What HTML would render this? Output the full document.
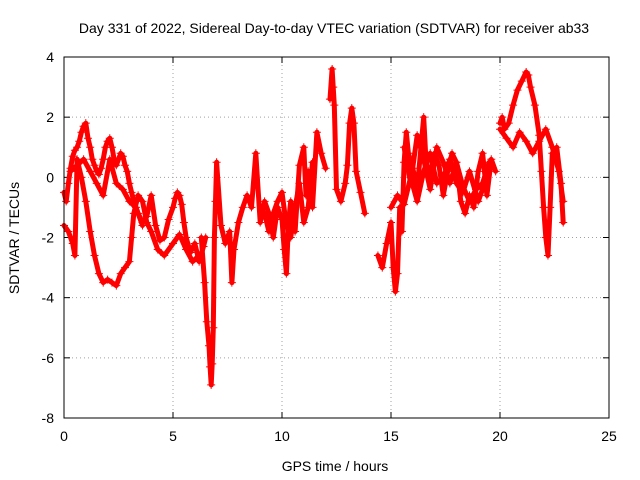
<!DOCTYPE html>
<html><head><meta charset="utf-8">
<style>
html,body{margin:0;padding:0;background:#fff;}
svg{display:block;font-family:"Liberation Sans",sans-serif;}
</style></head>
<body>
<svg id="chart" width="640" height="480" viewBox="0 0 640 480" xmlns="http://www.w3.org/2000/svg">
<text x="334" y="33" font-size="14" text-anchor="middle">Day 331 of 2022, Sidereal Day-to-day VTEC variation (SDTVAR) for receiver ab33</text>
<text transform="translate(19,238) rotate(-90)" font-size="14" text-anchor="middle">SDTVAR / TECUs</text>
<text x="335" y="471" font-size="14" text-anchor="middle">GPS time / hours</text>
<g id="grid"></g>
<g id="marks"></g>
<rect x="64" y="57" width="545" height="361" fill="none" stroke="#000" stroke-width="1"/>
</svg>
<script>
const xTicks = [0,5,10,15,20,25];
const yTicks = [-8,-6,-4,-2,0,2,4];
const seg1T = [0,0.1,0.2,0.3,0.4,0.5,0.6,0.7,0.8,0.9,1.0,1.1,1.2,1.3,1.4,1.5,1.6,1.7,1.8,1.9,2.0,2.1,2.2,2.3,2.4,2.5,2.6,2.7,2.8,2.9,3.0,3.1,3.2,3.4,3.6,3.8,4.0,4.2,4.4,4.6,4.8,5.0,5.1,5.2,5.3,5.4,5.5,5.6,5.8,6.0,6.2,6.4,6.5];
const seg1V = [-0.5,-0.8,-0.2,0.3,0.7,0.9,1.0,1.2,1.5,1.7,1.8,1.3,1.0,0.6,0.4,0.2,0.1,0.3,0.6,1.0,1.2,1.3,1.0,0.6,0.4,0.6,0.8,0.7,0.4,0.2,-0.2,-0.5,-0.8,-1.2,-1.5,-1.3,-0.6,-1.6,-2.1,-2.0,-1.4,-1.0,-0.7,-0.5,-0.6,-0.9,-1.5,-2.0,-2.5,-2.2,-2.8,-2.3,-2.0];
const seg2T = [0,0.2,0.4,0.5,0.6,0.8,1.0,1.2,1.4,1.6,1.8,2.0,2.2,2.4,2.6,2.8,3.0,3.1,3.2,3.4,3.6,3.8,4.0,4.3,4.6,5.0,5.3,5.6,5.9,6.2];
const seg2V = [-1.6,-1.8,-2.2,-2.6,0.6,0.0,-0.8,-1.8,-2.6,-3.2,-3.5,-3.4,-3.5,-3.6,-3.2,-3.0,-2.8,-2.0,-1.2,-0.6,-0.8,-1.5,-1.8,-2.4,-2.6,-2.2,-1.9,-2.4,-2.8,-2.6];
const seg3T = [6.3,6.45,6.55,6.65,6.7,6.75,6.8,6.85,6.9,6.95,7.0,7.2,7.4,7.6,7.7,7.8,8.0,8.2,8.4,8.6,8.8,9.0,9.2,9.4,9.6,9.8,10.0,10.1,10.2,10.3,10.4,10.6,10.8,11.0,11.1,11.2,11.4,11.6,11.8,12.0];
const seg3V = [-2.0,-3.5,-4.8,-5.6,-6.3,-6.9,-6.2,-5.0,-2.0,-0.8,0.5,-1.6,-2.2,-1.8,-3.5,-2.4,-1.5,-1.0,-0.6,-1.0,0.8,-1.5,-0.8,-1.2,-2.0,-1.0,-1.4,-2.4,-3.2,-1.5,-0.8,-1.8,0.4,1.0,-0.6,0.2,-1.0,1.5,0.8,0.3];
const seg4T = [9.2,9.4,9.6,9.8,10.0,10.2,10.4,10.6,10.8,11.0,11.2,11.4];
const seg4V = [-1.2,-1.8,-1.2,-0.8,-0.5,-1.6,-2.0,-1.0,-0.2,-1.5,-1.0,0.5];
const seg5T = [12.2,12.3,12.35,12.4,12.5,12.7,12.9,13.0,13.1,13.2,13.3,13.4,13.6,13.8];
const seg5V = [2.6,3.6,3.0,2.4,-0.4,-0.8,-0.2,0.4,1.8,2.3,1.8,0.2,-0.5,-1.2];
const seg6T = [14.4,14.6,14.8,15.0,15.1,15.2,15.3,15.4,15.5,15.6,15.7,15.8,16.0,16.2,16.4,16.5,16.6,16.8,17.0,17.2,17.4,17.6,17.8,18.0,18.2,18.4,18.6,18.8,19.0,19.2,19.4,19.6,19.8];
const seg6V = [-2.6,-3.0,-2.2,-1.5,-3.0,-3.8,-3.2,-1.0,-1.8,0.5,1.5,0.8,0.3,-0.4,1.2,2.0,0.6,0.0,0.8,0.4,-0.6,0.2,0.8,0.5,-0.8,-1.2,-0.6,-1.0,0.2,0.8,-0.6,0.6,0.2];
const seg7T = [15.0,15.3,15.6,15.9,16.2,16.5,16.8,17.1,17.4,17.7,18.0,18.3,18.6,19.0,19.4];
const seg7V = [-1.0,-0.6,-0.9,0.0,-0.8,0.2,0.8,-0.2,0.0,0.6,-0.2,-0.5,0.2,-0.8,0.0];
const seg8T = [20.0,20.1,20.2,20.4,20.6,20.8,21.0,21.2,21.3,21.4,21.6,21.8,21.9,22.0,22.1,22.2,22.3,22.4,22.6,22.8,22.9];
const seg8V = [1.8,2.0,1.6,1.8,2.4,2.9,3.2,3.5,3.4,3.0,2.4,1.4,0.2,-1.0,-2.0,-2.6,-1.0,0.8,1.0,-0.2,-1.5];
const seg9T = [20.0,20.3,20.6,20.9,21.2,21.5,21.8,22.1,22.4,22.7,22.9];
const seg9V = [1.6,1.3,1.0,1.5,1.2,0.8,1.2,1.6,1.0,0.2,-0.8];
const seg10T = [0.3,0.6,0.9,1.2,1.5,1.8,2.1,2.4,2.7,3.0,3.3,3.6];
const seg10V = [0.2,0.4,0.6,0.2,-0.2,-0.6,0.6,-0.2,-0.4,-0.8,-1.0,-1.6];
const seg11T = [15.6,15.9,16.2,16.5,16.8,17.1,17.4,17.7,18.0,18.3,18.6,18.9,19.2,19.5];
const seg11V = [1.0,-0.2,1.4,0.6,-0.4,1.0,0.5,-0.2,0.5,-0.3,-0.8,-0.4,-0.2,0.5];
const segmentsT = [seg1T,seg2T,seg3T,seg4T,seg5T,seg6T,seg7T,seg8T,seg9T,seg10T,seg11T];
const segmentsV = [seg1V,seg2V,seg3V,seg4V,seg5V,seg6V,seg7V,seg8V,seg9V,seg10V,seg11V];

const NS = "http://www.w3.org/2000/svg";
const X0=64, X1=609, Y0=418, Y1=57;
function xs(t){return X0+(t-0)/(25-0)*(X1-X0);}
function ys(v){return Y0-(v-(-8))/(4-(-8))*(Y0-Y1);}
const grid=document.getElementById('grid');
const marks=document.getElementById('marks');
function mk(tag,attrs,parent){const e=document.createElementNS(NS,tag);for(const k in attrs)e.setAttribute(k,attrs[k]);parent.appendChild(e);return e;}
xTicks.forEach(t=>{
  const x=xs(t);
  if(t>0&&t<25){const g=mk('line',{x1:x,x2:x,y1:Y1,y2:Y0,stroke:'#a0a0a0','stroke-dasharray':'1,3'},grid);
  
  }
  mk('line',{x1:x,x2:x,y1:Y0,y2:Y0-6,stroke:'#000'},grid);
  mk('line',{x1:x,x2:x,y1:Y1,y2:Y1+6,stroke:'#000'},grid);
  const l=mk('text',{x:x,y:Y0+23,'font-size':14,'text-anchor':'middle'},grid);
  l.textContent=t;
  
  
});
yTicks.forEach(v=>{
  const y=ys(v);
  if(v>-8&&v<4){const g=mk('line',{x1:X0,x2:X1,y1:y,y2:y,stroke:'#a0a0a0','stroke-dasharray':'1,3'},grid);
  
  }
  mk('line',{x1:X0,x2:X0+6,y1:y,y2:y,stroke:'#000'},grid);
  mk('line',{x1:X1,x2:X1-6,y1:y,y2:y,stroke:'#000'},grid);
  const l=mk('text',{x:X0-10,y:y+5,'font-size':14,'text-anchor':'end'},grid);
  l.textContent=v;
  
  
});
segmentsT.forEach((T,i)=>{
  const V=segmentsV[i];
  const pts=T.map((t,j)=>xs(t).toFixed(1)+','+ys(V[j]).toFixed(1)).join(' ');
  const pl=mk('polyline',{points:pts,fill:'none',stroke:'#ff0000','stroke-width':5,'stroke-linejoin':'round','stroke-linecap':'round'},marks);
  
  
  T.forEach((t,j)=>{
    const x=xs(t), y=ys(V[j]);
    const p=mk('path',{d:`M${x-4},${y}H${x+4}M${x},${y-4}V${y+4}`,stroke:'#ff0000','stroke-width':1},marks);
    
    
  });
});
</script>
</body></html>
